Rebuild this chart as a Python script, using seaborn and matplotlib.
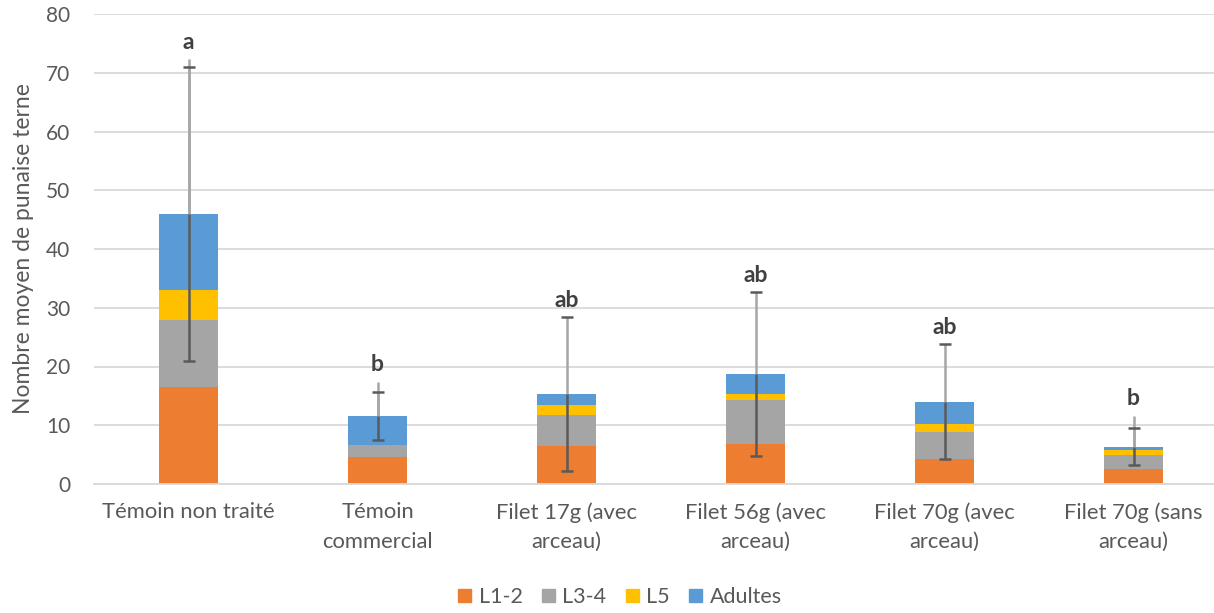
import numpy as np
import pandas as pd
import matplotlib
matplotlib.use("Agg")
import matplotlib.pyplot as plt
import seaborn as sns
from matplotlib.patches import Patch

# --- data -------------------------------------------------------------
categories = ["Témoin non traité", "Témoin\ncommercial", "Filet 17g (avec\narceau)",
              "Filet 56g (avec\narceau)", "Filet 70g (avec\narceau)", "Filet 70g (sans\narceau)"]
series_names = ["L1-2", "L3-4", "L5", "Adultes"]
l12 = [16.5, 4.6, 6.5, 6.75, 4.2, 2.5]
l34 = [11.4, 2.0, 5.2, 7.55, 4.7, 2.4]
l5 = [5.1, 0.0, 1.7, 1.0, 1.3, 0.9]
adultes = [13.0, 4.95, 1.9, 3.45, 3.8, 0.55]
erreur = [25.0, 4.1, 13.1, 13.9, 9.8, 3.1]
borne_sup = [72.3, 17.4, np.nan, np.nan, np.nan, 11.6]
lettres = ["a", "b", "ab", "ab", "ab", "b"]

colors = ["#ED7D31", "#A5A5A5", "#FFC000", "#5B9BD5"]
text_col = "#595959"

sns.set_theme(style="white")
plt.rcParams["font.family"] = ["Lato", "DejaVu Sans"]

df = pd.DataFrame({"cat": categories, "L1-2": l12, "L3-4": l34, "L5": l5, "Adultes": adultes})
cum = df[series_names].cumsum(axis=1)
total = cum["Adultes"].to_numpy()

fig = plt.figure(figsize=(12.14, 6.13), dpi=100)
ax = fig.add_axes([94 / 1214, 129 / 613, 1134 / 1214, 470 / 613])

# stacked bars: draw cumulative heights from the top series down
for name, col in zip(series_names[::-1], colors[::-1]):
    sns.barplot(x=df["cat"], y=cum[name], color=col, width=0.317, ax=ax,
                saturation=1, linewidth=0, zorder=2)

x = np.arange(len(categories))
err = np.array(erreur)
ext = np.array(borne_sup)
light = "#A6A6A6"
dark = "#5A5A5A"
has_ext = ~np.isnan(ext)

# upper part of error bars (light) and lower part (dark)
ax.vlines(x, total, total + err, color=light, lw=1.8, zorder=3)
ax.vlines(x[has_ext], total[has_ext], ext[has_ext], color=light, lw=1.8, zorder=3)
ax.vlines(x, total - err, total, color=dark, lw=1.8, zorder=4)
ax.scatter(x, total + err, marker="_", s=78, color=dark, linewidths=1.8, zorder=5)
ax.scatter(x, total - err, marker="_", s=78, color=dark, linewidths=1.8, zorder=5)

tops = np.fmax(total + err, np.nan_to_num(ext, nan=-1))
for xi, yi, lab in zip(x, tops, lettres):
    ax.text(xi, yi + 1.8, lab, ha="center", va="baseline", fontsize=16.5,
            fontweight="bold", color="#404040")

ax.set_ylim(0, 80)
ax.set_xlim(-0.5, 5.5)
ax.set_yticks(np.arange(0, 81, 10))
ax.yaxis.grid(True, color="#D9D9D9", lw=1.3)
ax.set_axisbelow(True)
for s in ["top", "right", "left"]:
    ax.spines[s].set_visible(False)
ax.spines["bottom"].set_color("#D9D9D9")
ax.spines["bottom"].set_linewidth(1.3)
ax.tick_params(axis="y", length=0, pad=17, labelsize=15, labelcolor=text_col)
ax.tick_params(axis="x", length=0, pad=13, labelsize=15.8, labelcolor=text_col)
for t in ax.get_xticklabels():
    t.set_linespacing(1.6)
ax.set_xlabel("")
ax.set_ylabel("Nombre moyen de punaise terne", fontsize=16.5, color=text_col, labelpad=9)

handles = [Patch(color=c, label=n) for c, n in zip(colors, series_names)]
fig.legend(handles=handles, loc="center", bbox_to_anchor=(620 / 1214, 1 - 597 / 613), ncol=4,
           frameon=False, fontsize=15.5, handlelength=0.6, handleheight=0.6,
           handletextpad=0.35, columnspacing=0.9, labelcolor=text_col)

fig.savefig("out.png", dpi=100)
